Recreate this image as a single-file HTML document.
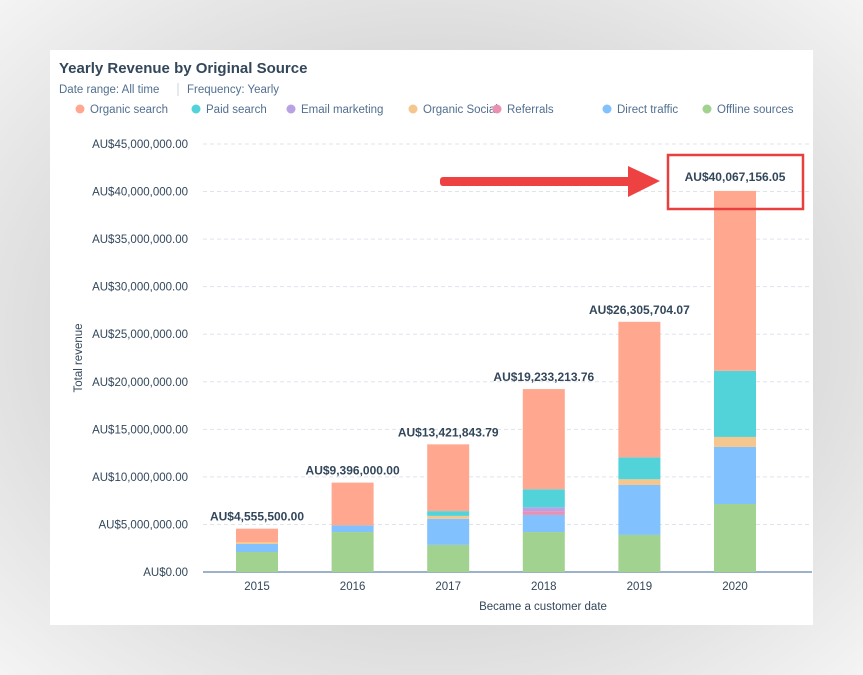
<!DOCTYPE html>
<html><head><meta charset="utf-8"><style>
body{margin:0;width:863px;height:675px;background:#e9e9e9;font-family:"Liberation Sans",sans-serif;overflow:hidden;position:relative}
#bg{position:absolute;left:0;top:0;width:863px;height:675px;background:radial-gradient(ellipse at center,#bdbdbd 0%,#d8d8d8 55%,#f4f4f4 100%)}
#card{position:absolute;left:50px;top:50px;width:763px;height:575px;background:#fff}
</style></head><body>
<div id="bg"></div>
<div id="card"></div>
<svg id="chart" width="863" height="675" style="position:absolute;left:0;top:0" font-family="Liberation Sans, sans-serif">
<text x="59" y="73" font-size="15" font-weight="bold" fill="#33475b">Yearly Revenue by Original Source</text>
<text x="59" y="93" font-size="11.5" fill="#516f90">Date range: All time</text>
<line x1="178" y1="83" x2="178" y2="96" stroke="#cbd6e2"/>
<text x="187" y="93" font-size="11.5" fill="#516f90">Frequency: Yearly</text>
<g id="legend"></g>
<g id="grid"></g><g id="bars"></g><g id="labels"></g>
<text transform="translate(82,358) rotate(-90)" text-anchor="middle" font-size="11.5" fill="#33475b">Total revenue</text>
<text x="543" y="610" text-anchor="middle" font-size="11.5" fill="#33475b">Became a customer date</text>
<rect x="668" y="155" width="135" height="54" fill="none" stroke="#e8403f" stroke-width="2.5"/>
<g>
<rect x="440" y="177" width="195" height="9" rx="3" fill="#ee4242"/>
<polygon points="628,166 660,181 628,197" fill="#ee4242"/>
</g>
</svg>
<script>
const years=['2015','2016','2017','2018','2019','2020'];
const totals=['AU$4,555,500.00','AU$9,396,000.00','AU$13,421,843.79','AU$19,233,213.76','AU$26,305,704.07','AU$40,067,156.05'];
const seriesNames=['Organic search','Paid search','Email marketing','Organic Social','Referrals','Direct traffic','Offline sources'];
const seriesColors=['#ffa78f','#51d3d9','#b9a1e6','#f5c78e','#ea90b1','#81c1fd','#a2d28f'];
const offline=[2.1,4.2,2.85,4.2,3.9,7.15];
const direct=[0.85,0.7,2.75,1.8,5.25,6.0];
const referrals=[0,0,0,0.4,0,0];
const email=[0,0,0,0.4,0,0];
const organicSocial=[0.2,0,0.3,0,0.6,1.05];
const paid=[0,0,0.5,1.9,2.3,6.95];
const organicSearch=[1.4055,4.496,7.0218,10.5332,14.2557,18.9172];
const yTicks=[0,5,10,15,20,25,30,35,40,45];
const yTickLabels=['AU$0.00','AU$5,000,000.00','AU$10,000,000.00','AU$15,000,000.00','AU$20,000,000.00','AU$25,000,000.00','AU$30,000,000.00','AU$35,000,000.00','AU$40,000,000.00','AU$45,000,000.00'];
const NS='http://www.w3.org/2000/svg';
const y0=572,pxPerM=(572-144)/45;
const yS=v=>y0-v*pxPerM;
const xS=i=>257+i*95.6;
function mk(t,a,p){const e=document.createElementNS(NS,t);for(const k in a)e.setAttribute(k,a[k]);p.appendChild(e);return e;}
const grid=document.getElementById('grid');
yTicks.forEach((t,i)=>{
 if(t>0){const l=mk('line',{x1:203,x2:812,y1:yS(t),y2:yS(t),stroke:'#dfe3eb','stroke-dasharray':'4,3'},grid);
 }
 const tx=mk('text',{x:188,y:yS(t)+4,'text-anchor':'end','font-size':11.5,fill:'#33475b'},grid);tx.textContent=yTickLabels[i];
 
});
const ax=mk('line',{x1:203,x2:812,y1:y0,y2:y0,stroke:'#7c98b6','stroke-width':1.5},grid);

const stack=[[offline,6],[direct,5],[referrals,4],[email,2],[organicSocial,3],[paid,1],[organicSearch,0]];
const bars=document.getElementById('bars'),labels=document.getElementById('labels');
years.forEach((yr,i)=>{
 let acc=0;
 stack.forEach(([arr,ci])=>{const v=arr[i];if(v<=0)return;
  const r=mk('rect',{x:xS(i)-21,width:42,y:yS(acc+v),height:yS(acc)-yS(acc+v),fill:seriesColors[ci]},bars);
  
  acc+=v;});
 const t=mk('text',{x:xS(i),y:yS(acc)-8,'text-anchor':'middle','font-size':12,'font-weight':'bold',fill:'#33475b'},labels);
 if(i===5)t.setAttribute('y',yS(acc)-10);
 t.textContent=totals[i];
 
 const xl=mk('text',{x:xS(i),y:590,'text-anchor':'middle','font-size':11.5,fill:'#33475b'},labels);xl.textContent=yr;
 
});
const lg=document.getElementById('legend');
const lx=[80,196,291,413,497,607,707];
seriesNames.forEach((n,i)=>{
 const g=mk('g',{},lg);
 
 mk('circle',{cx:lx[i],cy:109,r:4.5,fill:seriesColors[i]},g);
 const t=mk('text',{x:lx[i]+10,y:113,'font-size':11.5,fill:'#516f90'},g);t.textContent=n;
});
</script>
</body></html>
